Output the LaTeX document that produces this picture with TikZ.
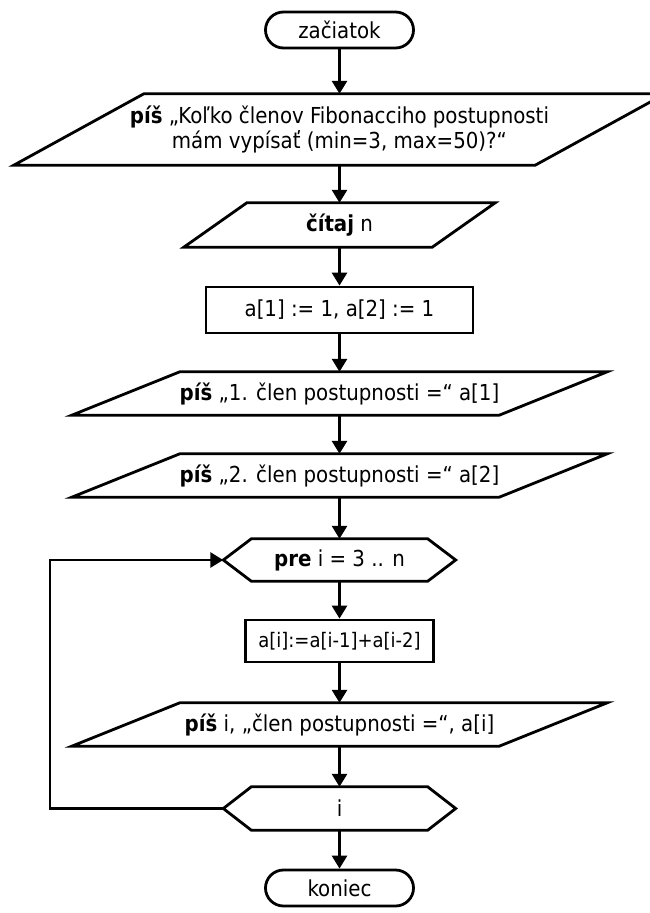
\documentclass[tikz,border=0pt]{standalone}
\usepackage{fontspec}
\setmainfont{DejaVu Sans Condensed}
\usetikzlibrary{arrows.meta,calc}
\newcommand\drawpara[2]{\draw[outline] ($(#1.north west)+(#2,0)$) -- ($(#1.north east)+(#2,0)$) -- ($(#1.south east)-(#2,0)$) -- ($(#1.south west)-(#2,0)$) -- cycle;}
\newcommand\drawhex[2]{\draw[outline] (#1.north west) -- (#1.north east) -- ($(#1.east)+(#2,0)$) -- (#1.south east) -- (#1.south west) -- ($(#1.west)-(#2,0)$) -- cycle;}
\begin{document}
\begin{tikzpicture}[x=1pt,y=-1pt,
  txt/.style={font=\fontsize{22}{25}\selectfont, text=black, align=center, inner sep=0pt},
  outline/.style={draw=black, line width=2.8pt, line join=miter},
  ghost/.style={txt},
  boxed/.style={txt, outline},
  term/.style={txt, outline, rounded corners=18pt, minimum width=148pt, minimum height=36pt},
  arr/.style={draw=black, line width=2.8pt, -{Triangle[length=13pt,width=15pt]}}]
\useasboundingbox (0,0) rectangle (649,913);
\fill[white] (0,0) rectangle (649,913);
\node[term] (start) at (339.5,30) {začiatok};
\node[ghost, minimum width=521pt, minimum height=71pt] (ask) at (339.5,129.5)
  {\textbf{píš} „Koľko členov Fibonacciho postupnosti\\mám vypísať (min=3, max=50)?“};
\drawpara{ask}{65}
\node[ghost, minimum width=248pt, minimum height=44pt] (read) at (339.5,225) {\textbf{čítaj} n};
\drawpara{read}{31.5}
\node[boxed, minimum width=267pt, minimum height=46pt] (init) at (339.5,310) {a[1] := 1, a[2] := 1};
\node[ghost, minimum width=427pt, minimum height=43pt] (w1) at (339.5,393.5) {\textbf{píš} „1. člen postupnosti =“ a[1]};
\drawpara{w1}{54}
\node[ghost, minimum width=427pt, minimum height=43pt] (w2) at (339.5,475.5) {\textbf{píš} „2. člen postupnosti =“ a[2]};
\drawpara{w2}{54}
\node[ghost, minimum width=176pt, minimum height=42pt] (pre) at (339.5,560) {\textbf{pre} i = 3 .. n};
\drawhex{pre}{28}
\coordinate (preW) at ($(pre.west)-(28,0)$);
\node[boxed, minimum width=188pt, minimum height=42pt, font=\fontsize{20}{24}\selectfont] (calc) at (339.5,641) {a[i]:=a[i-1]+a[i-2]};
\node[ghost, minimum width=427pt, minimum height=43pt] (w3) at (339.5,724.5) {\textbf{píš} i, „člen postupnosti =“, a[i]};
\drawpara{w3}{54}
\node[ghost, minimum width=176pt, minimum height=43pt] (iend) at (339.5,808.5) {i};
\drawhex{iend}{28}
\coordinate (iW) at ($(iend.west)-(28,0)$);
\node[term] (stop) at (339.5,888) {koniec};
\coordinate (lx) at (50,0);
\draw[arr] (start) -- (ask);
\draw[arr] (ask) -- (read);
\draw[arr] (read) -- (init);
\draw[arr] (init) -- (w1);
\draw[arr] (w1) -- (w2);
\draw[arr] (w2) -- (pre);
\draw[arr] (pre) -- (calc);
\draw[arr] (calc) -- (w3);
\draw[arr] (w3) -- (iend);
\draw[arr] (iend) -- (stop);
\draw[arr] (iW) -- (iW -| lx) -- (preW -| lx) -- (preW);
\end{tikzpicture}
\end{document}
